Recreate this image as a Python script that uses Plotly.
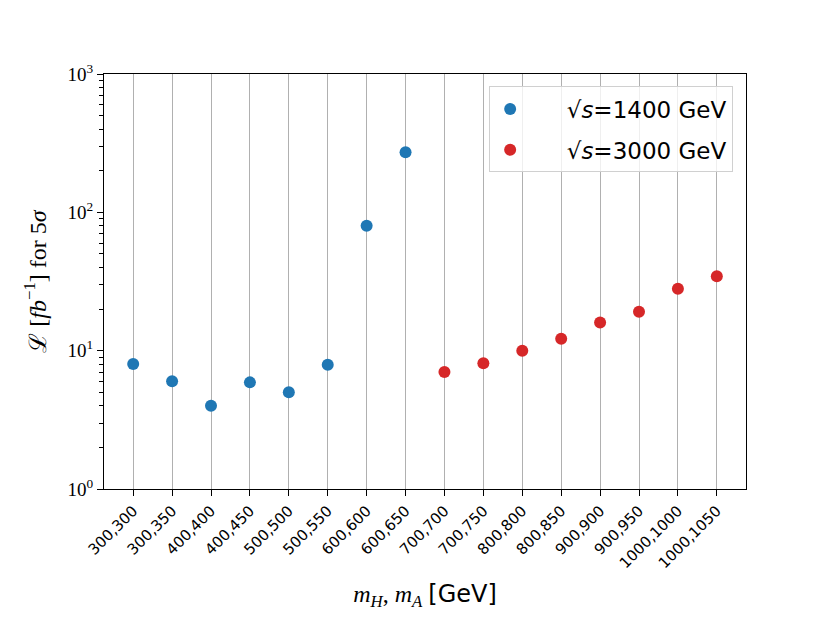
import plotly.graph_objects as go

# categories (m_H, m_A) and luminosity needed for 5 sigma
masses = ["300,300", "300,350", "400,400", "400,450", "500,500", "500,550",
          "600,600", "600,650", "700,700", "700,750", "800,800", "800,850",
          "900,900", "900,950", "1000,1000", "1000,1050"]
masses_1400 = masses[:8]
lumi_1400 = [8.0, 6.0, 4.0, 5.9, 5.0, 7.9, 80, 272]
masses_3000 = masses[8:]
lumi_3000 = [7.0, 8.1, 10.0, 12.2, 16.0, 19.1, 28.0, 34.5]

y_ticks = [1, 10, 100, 1000]
y_ticktext = ["10<sup>0</sup>", "10<sup>1</sup>", "10<sup>2</sup>", "10<sup>3</sup>"]
y_minor = [m * 10 ** e for e in range(3) for m in range(2, 10)]

serif = "Liberation Serif"
sans = "DejaVu Sans"

fig = go.Figure()
fig.add_trace(go.Scatter(
    x=masses_1400, y=lumi_1400, mode="markers",
    marker={"size": 12, "color": "#1f77b4"},
    name="     √<i>s</i>=1400 GeV", legendgroup="a",
))
fig.add_trace(go.Scatter(
    x=masses_3000, y=lumi_3000, mode="markers",
    marker={"size": 12, "color": "#d62728"},
    name="     √<i>s</i>=3000 GeV", legendgroup="b",
))
# empty trace so the overlay axis carrying the minor ticks gets drawn
fig.add_trace(go.Scatter(x=[None], y=[None], yaxis="y2", showlegend=False, hoverinfo="skip"))

# the page sits 8px in from the window edge, so margins are shifted by that
fig.update_layout(
    width=830, height=623,
    margin={"l": 96, "r": 92, "t": 66, "b": 142},
    plot_bgcolor="white", paper_bgcolor="white",
    showlegend=True,
    legend={
        "x": 0.98, "y": 0.97, "xanchor": "right", "yanchor": "top",
        "bgcolor": "rgba(255,255,255,0.8)", "bordercolor": "#d0d0d0", "borderwidth": 1,
        "font": {"family": sans, "size": 23, "color": "black"},
        "itemsizing": "constant", "tracegroupgap": 8,
    },
    xaxis={
        "type": "category", "categoryorder": "array", "categoryarray": masses,
        "range": [-0.75, 15.75],
        "showgrid": True, "gridcolor": "#b0b0b0", "gridwidth": 1,
        "showline": True, "linecolor": "black", "linewidth": 1.2, "mirror": True,
        "ticks": "outside", "ticklen": 6, "tickwidth": 1.2, "tickcolor": "black",
        "tickangle": -45,
        "tickfont": {"family": sans, "size": 15, "color": "black"},
        "title": {"text": "<i>m</i><sub><i>H</i></sub>, <i>m</i><sub><i>A</i></sub> <span style='font-family:DejaVu Sans'>[GeV]</span>",
                  "font": {"family": serif, "size": 24, "color": "black"}, "standoff": 14},
        "zeroline": False,
    },
    yaxis={
        "type": "log", "range": [0, 3],
        "tickvals": y_ticks, "ticktext": y_ticktext,
        "showgrid": False,
        "showline": True, "linecolor": "black", "linewidth": 1.2, "mirror": True,
        "ticks": "outside", "ticklen": 6, "tickwidth": 1.2, "tickcolor": "black",
        "tickfont": {"family": serif, "size": 19, "color": "black"},
        "title": {"text": "ℒ [<i>fb</i><sup>−1</sup>] for 5<i>σ</i>",
                  "font": {"family": serif, "size": 24, "color": "black"}, "standoff": 14},
        "zeroline": False,
    },
    yaxis2={
        "type": "log", "range": [0, 3], "overlaying": "y", "side": "left", "anchor": "x",
        "tickvals": y_minor, "showticklabels": False,
        "ticks": "outside", "ticklen": 4, "tickwidth": 1, "tickcolor": "black",
        "showgrid": False, "showline": False, "zeroline": False,
    },
)

fig.write_html("out.html")
